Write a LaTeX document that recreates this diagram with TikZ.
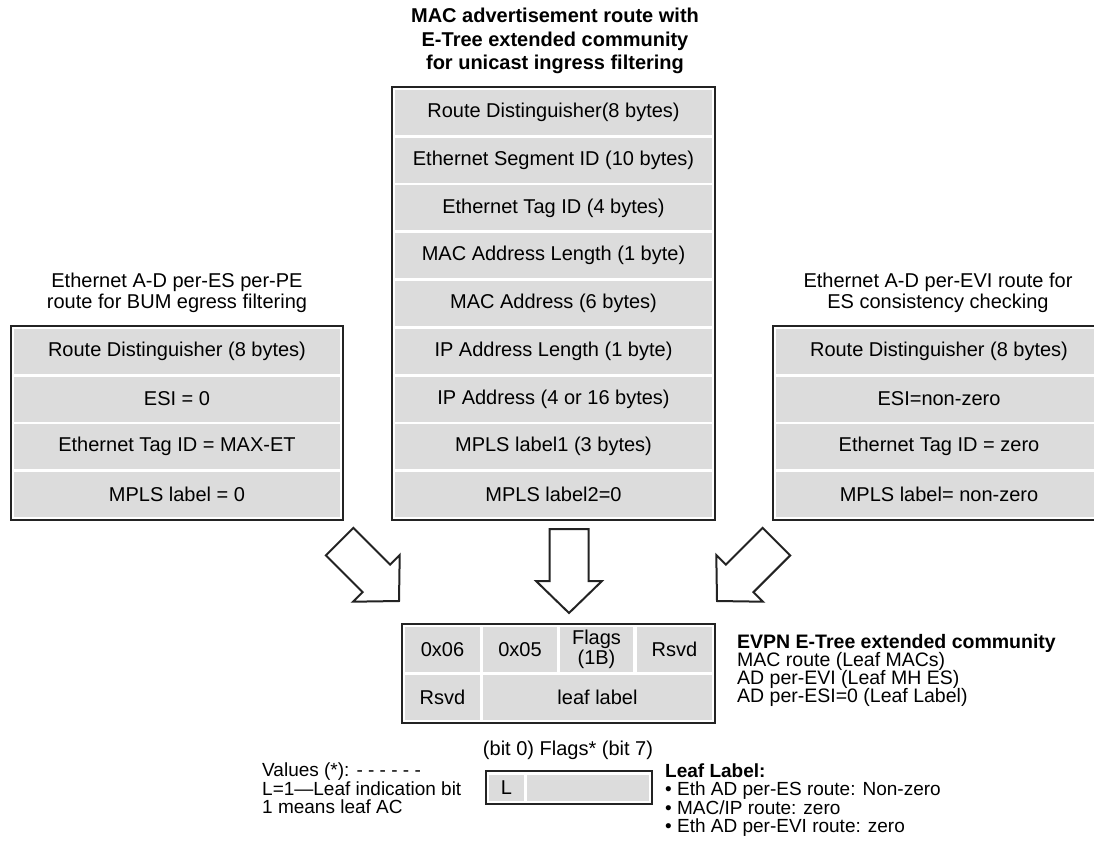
\documentclass[tikz,border=0pt]{standalone}
\usepackage{fontspec}
\setmainfont{Liberation Sans}
\usetikzlibrary{positioning,fit}
\definecolor{fieldgray}{RGB}{220,220,220}
\definecolor{ink}{RGB}{35,35,35}
\newcommand{\fieldfont}{\fontsize{20}{24}\selectfont}

\begin{document}
\begin{tikzpicture}[x=1pt, y=-1pt,
  field/.style={fill=fieldgray, minimum height=45pt, inner sep=0pt, font=\fieldfont},
  frame/.style={draw=ink, line width=2pt, inner sep=3pt},
  ttl/.style={align=center, inner sep=0pt},
  note/.style={align=left, anchor=north west, inner sep=0pt},
  bigarrow/.pic={\draw[draw=ink, line width=2pt, fill=white, line join=miter]
      (-84,19.5) -- (-32,19.5) -- (-32,33) -- (0,0) -- (-32,-33) -- (-32,-19.5) -- (-84,-19.5) -- cycle;}]
\useasboundingbox (0,0) rectangle (1094,842);

% MAC advertisement route
\node[ttl, font=\fontsize{20}{23.5}\selectfont\bfseries] (macttl) at (555,41)
  {MAC advertisement route with\\E-Tree extended community\\for unicast ingress filtering};
\foreach \txt [count=\i] in {Route Distinguisher(8 bytes), Ethernet Segment ID (10 bytes),
    Ethernet Tag ID (4 bytes), MAC Address Length (1 byte), MAC Address (6 bytes),
    IP Address Length (1 byte), IP Address (4 or 16 bytes), MPLS label1 (3 bytes), MPLS label2=0}
  \node[field, minimum width=317pt] (mac\i) at (553.5,{112.5+47.75*(\i-1)}) {\txt};
\node[frame, fit=(mac1)(mac9)] (macbox) {};

% A-D per-ES route
\node[ttl, font=\fontsize{20}{20.5}\selectfont] (esttl) at (177,293)
  {Ethernet A-D per-ES per-PE\\route for BUM egress filtering};
\foreach \txt [count=\i] in {Route Distinguisher (8 bytes), ESI = 0, Ethernet Tag ID = MAX-ET, MPLS label = 0}
  \node[field, minimum width=326pt] (es\i) at (177,{351.25+47.75*(\i-1)}) {\txt};
\node[frame, fit=(es1)(es4)] (esbox) {};

% A-D per-EVI route
\node[ttl, font=\fontsize{20}{20.5}\selectfont] (evittl) at (938,293)
  {Ethernet A-D per-EVI route for\\ES consistency checking};
\foreach \txt [count=\i] in {Route Distinguisher (8 bytes), ESI=non-zero, Ethernet Tag ID = zero, MPLS label= non-zero}
  \node[field, minimum width=326pt] (evi\i) at (939,{351.25+47.75*(\i-1)}) {\txt};
\node[frame, fit=(evi1)(evi4)] (evibox) {};

% arrows
\pic[rotate=-45] (arrL) at (399,601) {bigarrow};
\pic[rotate=-90] (arrM) at (569,613) {bigarrow};
\pic[rotate=-135] (arrR) at (717,601) {bigarrow};

% E-Tree extended community
\node[field, minimum width=75pt] (c06) at (442.5,649.5) {0x06};
\node[field, minimum width=74pt] (c05) at (520,649.5) {0x05};
\node[field, minimum width=73pt, align=center, font=\fontsize{20}{20}\selectfont] (cflags) at (596.5,649.5) {Flags\\(1B)};
\node[field, minimum width=75pt] (crsvd) at (674.5,649.5) {Rsvd};
\node[field, minimum width=75pt] (crsvdb) at (442.5,697.5) {Rsvd};
\node[field, minimum width=229pt] (cleaf) at (597.5,697.5) {leaf label};
\node[frame, fit=(c06)(crsvd)(crsvdb)(cleaf)] (commbox) {};
\node[note, font=\fontsize{19.5}{18.2}\selectfont] (commtxt) at (737,634)
  {\textbf{EVPN E-Tree extended community}\\MAC route (Leaf MACs)\\AD per-EVI (Leaf MH ES)\\AD per-ESI=0 (Leaf Label)};

% flags
\node[font=\fieldfont, inner sep=0pt] (bits) at (568,750) {(bit 0) Flags* (bit 7)};
\node[field, minimum width=35pt, minimum height=26pt] (fl) at (506.5,787.5) {L};
\node[field, minimum width=122pt, minimum height=26pt] (frest) at (588,787.5) {};
\node[frame, fit=(fl)(frest)] (flbox) {};
\node[note, font=\fontsize{19}{17.4}\selectfont] (vals) at (262,763)
  {Values (*): - - - - - -\\L=1—Leaf indication bit\\1 means leaf AC};
\node[note, font=\fontsize{19}{17.7}\selectfont] (leaf) at (665,764)
  {\textbf{Leaf Label:}\\\textbullet{} Eth AD per-ES route: Non-zero\\\textbullet{} MAC/IP route: zero\\\textbullet{} Eth AD per-EVI route: zero};
\end{tikzpicture}
\end{document}
